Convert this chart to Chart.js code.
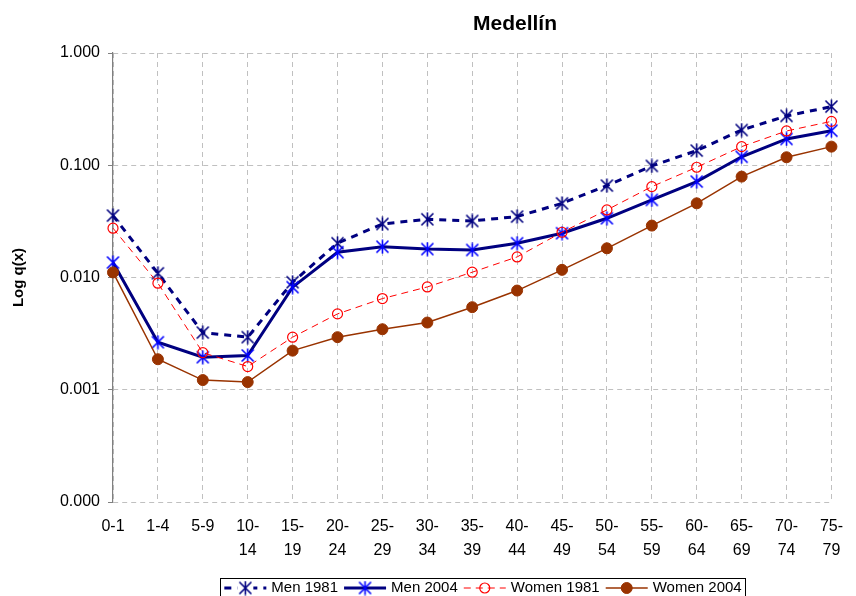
<!DOCTYPE html>
<html><head><meta charset="utf-8">
<script src="https://cdn.jsdelivr.net/npm/chart.js@4/dist/chart.umd.min.js"></script>
<style>html,body{margin:0;padding:0;background:#fff}#wrap{width:856px;height:596px;position:relative}</style>
</head><body><div id="wrap"><canvas id="c"></canvas></div>
<script>
const chartTitle = "Medellín";
const yAxisTitle = "Log q(x)";
const ageGroups = ["0-1","1-4","5-9","10-14","15-19","20-24","25-29","30-34","35-39","40-44","45-49","50-54","55-59","60-64","65-69","70-74","75-79"];
const yTickValues = [0.0001, 0.001, 0.01, 0.1, 1];
const seriesNames = ["Men 1981", "Men 2004", "Women 1981", "Women 2004"];
const men1981 = [0.0356,0.0109,0.00323,0.00294,0.00908,0.0202,0.0300,0.0330,0.0319,0.0349,0.0458,0.0659,0.0986,0.135,0.206,0.275,0.333];
const men2004 = [0.0136,0.00265,0.00195,0.00202,0.0082,0.0168,0.0188,0.0179,0.0176,0.0202,0.0248,0.0337,0.0491,0.0715,0.119,0.1715,0.203];
const women1981 = [0.0275,0.0089,0.00214,0.00161,0.00294,0.00474,0.00649,0.00824,0.01115,0.01525,0.0253,0.0400,0.0645,0.096,0.1465,0.202,0.246];
const women2004 = [0.0111,0.00187,0.00122,0.00117,0.00223,0.00294,0.00346,0.00397,0.00544,0.00765,0.0117,0.0182,0.0290,0.0458,0.0792,0.1178,0.1465];

const FONT = "'Liberation Sans', Arial, sans-serif";

function asterisk(color) {
  const s = 15, c = document.createElement('canvas');
  c.width = s; c.height = s;
  const g = c.getContext('2d');
  g.strokeStyle = color; g.lineWidth = 1.6;
  g.beginPath();
  g.moveTo(1.5, 1.5); g.lineTo(13.5, 13.5);
  g.moveTo(13.5, 1.5); g.lineTo(1.5, 13.5);
  g.moveTo(7.5, 0.5); g.lineTo(7.5, 14.5);
  g.stroke();
  return c;
}
const starNavy = asterisk('#000080');
const starBlue = asterisk('#0000FF');

const datasets = [
  { label: seriesNames[0], data: men1981, borderColor: '#000080', borderWidth: 3, borderDash: [7, 6],
    pointStyle: starNavy, pointRadius: 7, order: 4 },
  { label: seriesNames[1], data: men2004, borderColor: '#000080', borderWidth: 3,
    pointStyle: starBlue, pointRadius: 7, order: 3 },
  { label: seriesNames[2], data: women1981, borderColor: '#FF0000', borderWidth: 1, borderDash: [7, 5],
    pointStyle: 'circle', pointRadius: 5, pointBorderColor: '#FF0000', pointBackgroundColor: 'rgba(0,0,0,0)', pointBorderWidth: 1.2, order: 2 },
  { label: seriesNames[3], data: women2004, borderColor: '#993300', borderWidth: 1.5,
    pointStyle: 'circle', pointRadius: 5.5, pointBorderColor: '#993300', pointBackgroundColor: '#993300', pointBorderWidth: 1, order: 1 }
];
datasets.forEach(d => { d.fill = false; d.tension = 0; d.pointHoverRadius = d.pointRadius; });

const decorPlugin = {
  id: 'decor',
  afterDraw(chart) {
    const ctx = chart.ctx;
    ctx.save();
    // title
    ctx.fillStyle = '#000';
    ctx.font = 'bold 21px ' + FONT;
    ctx.textAlign = 'center';
    ctx.textBaseline = 'alphabetic';
    ctx.fillText(chartTitle, 515, 30);
    // legend
    ctx.font = '15px ' + FONT;
    const sampleW = 42, gapT = 5, gapI = 6, padX = 4;
    const metas = chart.data.datasets;
    let total = padX * 2;
    metas.forEach((d, i) => { total += sampleW + gapT + ctx.measureText(d.label).width + (i < metas.length - 1 ? gapI : 0); });
    const cx = 483, top = 578, cy = 588;
    let x = cx - total / 2;
    ctx.strokeStyle = '#000'; ctx.lineWidth = 1;
    ctx.strokeRect(Math.round(x) + 0.5, top + 0.5, Math.round(total), 26);
    x += padX;
    metas.forEach((d, i) => {
      ctx.save();
      ctx.strokeStyle = d.borderColor; ctx.lineWidth = d.borderWidth;
      ctx.setLineDash(d.borderDash || []);
      ctx.beginPath(); ctx.moveTo(x, cy); ctx.lineTo(x + sampleW, cy); ctx.stroke();
      ctx.setLineDash([]);
      const mx = x + sampleW / 2;
      if (typeof d.pointStyle === 'object') {
        ctx.fillStyle = '#fff';
        if (d.borderDash) ctx.fillRect(mx - 8, cy - 3, 16, 6);
        ctx.drawImage(d.pointStyle, mx - d.pointStyle.width / 2, cy - d.pointStyle.height / 2);
      } else {
        ctx.beginPath(); ctx.arc(mx, cy, d.pointRadius, 0, Math.PI * 2);
        ctx.fillStyle = d.pointBackgroundColor; ctx.fill();
        ctx.strokeStyle = d.pointBorderColor; ctx.lineWidth = d.pointBorderWidth; ctx.stroke();
      }
      ctx.restore();
      x += sampleW + gapT;
      ctx.fillStyle = '#000'; ctx.textAlign = 'left'; ctx.textBaseline = 'middle';
      ctx.fillText(d.label, x, cy);
      x += ctx.measureText(d.label).width + gapI;
    });
    ctx.restore();
  }
};

new Chart(document.getElementById('c'), {
  type: 'line',
  data: { labels: ageGroups, datasets },
  options: {
    responsive: true, maintainAspectRatio: false, animation: false,
    layout: { padding: { left: 0, right: 15, top: 53, bottom: 40 } },
    plugins: { legend: { display: false }, title: { display: false }, tooltip: { enabled: false } },
    scales: {
      x: {
        type: 'category', offset: false,
        grid: { color: '#c0c0c0', lineWidth: 1, drawTicks: false },
        border: { display: false, dash: [5, 4] },
        ticks: {
          color: '#000', font: { family: FONT, size: 16, lineHeight: 1.5 }, padding: 13,
          maxRotation: 0, minRotation: 0, autoSkip: false,
          callback: function(v, i) {
            const s = ageGroups[i];
            const p = s.split('-');
            return p[1].length > 1 ? [p[0] + '-', p[1]] : s;
          }
        },
        afterFit(scale) { scale.height = 54; }
      },
      y: {
        type: 'logarithmic', min: 0.0001, max: 1,
        afterBuildTicks(scale) { scale.ticks = yTickValues.map(v => ({ value: v })); },
        grid: { color: '#c0c0c0', lineWidth: 1, drawTicks: true, tickLength: 5, tickColor: '#808080', tickBorderDash: [], tickWidth: 1 },
        border: { display: true, color: '#808080', width: 1.2, dash: [5, 4] },
        ticks: { color: '#000', font: { family: FONT, size: 16 }, padding: 8,
          callback: v => Number(v).toFixed(3) },
        title: { display: true, text: yAxisTitle, color: '#000', font: { family: FONT, size: 15, weight: 'bold' }, padding: { top: 10, bottom: 0 } },
        afterFit(scale) { scale.width = 113; }
      }
    }
  },
  plugins: [decorPlugin]
});
</script></body></html>
